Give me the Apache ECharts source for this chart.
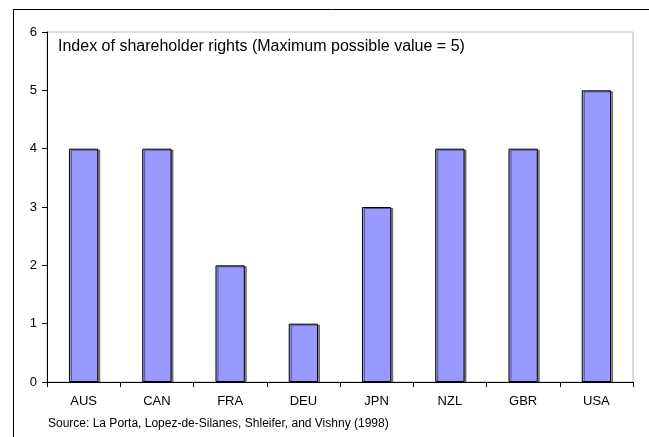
<!DOCTYPE html>
<html>
<head>
<meta charset="utf-8">
<script src="https://cdn.jsdelivr.net/npm/echarts@6/dist/echarts.min.js"></script>
<style>
  html, body { margin: 0; padding: 0; background: #fff; }
  #chart { width: 649px; height: 437px; }
</style>
</head>
<body>
<div id="chart"></div>
<script>
// data
var countries = ['AUS', 'CAN', 'FRA', 'DEU', 'JPN', 'NZL', 'GBR', 'USA']
var rights = [4, 4, 2, 1, 3, 4, 4, 5]
var yTicks = [0, 1, 2, 3, 4, 5, 6]

var fontFamily = 'Arial, "Liberation Sans", sans-serif'
var textColor = '#000'

var chart = echarts.init(document.getElementById('chart'), null, { renderer: 'canvas' })
var option = {
  animation: false,
  backgroundColor: '#fff',
  grid: {
    left: 47,
    right: 16,
    top: 32,
    bottom: 55,
    show: true,
    borderColor: '#b4b4b4',
    borderWidth: 1,
    backgroundColor: 'transparent'
  },
  graphic: [
    {
      type: 'polyline',
      silent: true,
      shape: { points: [[13.5, 437], [13.5, 9.5], [649, 9.5]] },
      style: { stroke: '#000', lineWidth: 1, fill: null }
    },
    {
      type: 'text',
      left: 58,
      top: 39,
      style: {
        text: 'Index of shareholder rights (Maximum possible value = 5)',
        font: '16px ' + fontFamily,
        fill: textColor
      }
    },
    {
      type: 'text',
      left: 48,
      top: 418,
      style: {
        text: 'Source: La Porta, Lopez-de-Silanes, Shleifer, and Vishny (1998)',
        font: '12px ' + fontFamily,
        fill: textColor
      }
    }
  ],
  xAxis: {
    type: 'category',
    data: countries,
    boundaryGap: true,
    axisLine: { lineStyle: { color: '#000', width: 1 } },
    axisTick: { show: true, length: 5, alignWithLabel: false, lineStyle: { color: '#000' } },
    axisLabel: {
      color: textColor,
      fontSize: 13,
      fontFamily: fontFamily,
      margin: 13
    },
    splitLine: { show: false }
  },
  yAxis: {
    type: 'value',
    min: yTicks[0],
    max: yTicks[yTicks.length - 1],
    interval: 1,
    axisLine: { show: true, lineStyle: { color: '#000', width: 1 } },
    axisTick: { show: true, length: 5, lineStyle: { color: '#000' } },
    axisLabel: {
      color: textColor,
      fontSize: 13,
      fontFamily: fontFamily,
      margin: 10
    },
    splitLine: { show: false }
  },
  series: [{
    type: 'bar',
    data: rights,
    barWidth: '40%',
    itemStyle: {
      color: '#9999ff',
      borderColor: '#000',
      borderWidth: 1,
      shadowColor: 'rgba(0,0,0,0.45)',
      shadowOffsetX: 2,
      shadowOffsetY: 1,
      shadowBlur: 0
    }
  }]
}
chart.setOption(option)
</script>
</body>
</html>
